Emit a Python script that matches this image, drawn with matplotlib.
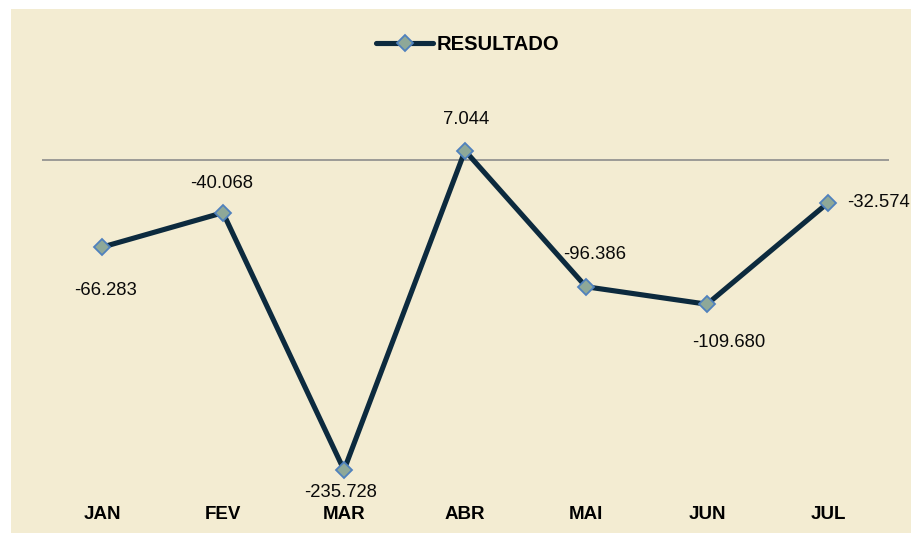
import matplotlib
matplotlib.use("Agg")
import matplotlib.pyplot as plt
from matplotlib.patches import Rectangle

# dados
meses = ["JAN", "FEV", "MAR", "ABR", "MAI", "JUN", "JUL"]
resultado = [-66.283, -40.068, -235.728, 7.044, -96.386, -109.680, -32.574]
rotulos = ["-66.283", "-40.068", "-235.728", "7.044", "-96.386", "-109.680", "-32.574"]

# deslocamento dos rótulos (pixels) e alinhamento
offsets = [(4, -43), (-1, 29), (-3, -22), (1, 31), (9, 32), (22, -38), (19, 0)]
aligns = ["center", "center", "center", "center", "center", "center", "left"]

BG = "#F3ECD2"
LINE = "#0C2A3E"
W, H = 911, 533

plt.rcParams["font.family"] = ["Liberation Sans", "DejaVu Sans"]

fig = plt.figure(figsize=(W / 100, H / 100), dpi=100, facecolor="white")
fig.patches.append(Rectangle((11 / W, 0), 1 - 11 / W, 1 - 9 / H,
                             transform=fig.transFigure, facecolor=BG,
                             edgecolor="none", zorder=-10))

# eixo: x -0.5..6.5 -> 41.5..888.5 px ; y -250..50 -> 488.8..94.2 px
ax = fig.add_axes([41.5 / W, (H - 488.8) / H, 847 / W, 394.6 / H])
ax.patch.set_visible(False)
x = range(len(meses))
ax.plot(x, resultado, color=LINE, lw=3.7, marker="D", ms=8,
        mfc="#8EA898", mec="#4F81BD", mew=1.3, label="RESULTADO", zorder=3,
        solid_capstyle="round", solid_joinstyle="miter")
ax.axhline(0, color="#8C8C8C", lw=1.2, zorder=2)

for i, (v, t) in enumerate(zip(resultado, rotulos)):
    dx, dy = offsets[i]
    ax.annotate(t, (i, v), xytext=(dx * 0.72, dy * 0.72), textcoords="offset points",
                ha=aligns[i], va="center", fontsize=13.3, color="#0A0A0A",
                annotation_clip=False)

ax.set_xlim(-0.5, len(meses) - 0.5)
ax.set_ylim(-250, 50)
ax.set_xticks(list(x))
ax.set_xticklabels(meses, fontsize=13.5, fontweight="bold")
ax.tick_params(axis="x", length=0, pad=12.5)
ax.set_yticks([])
for s in ax.spines.values():
    s.set_visible(False)

leg = fig.legend(loc="center", bbox_to_anchor=(468 / W, 1 - 45 / H), frameon=False,
                 prop={"size": 14.5, "weight": "bold"}, handlelength=2.8,
                 handletextpad=0.2)

fig.savefig("out.png", dpi=100, facecolor="white")
